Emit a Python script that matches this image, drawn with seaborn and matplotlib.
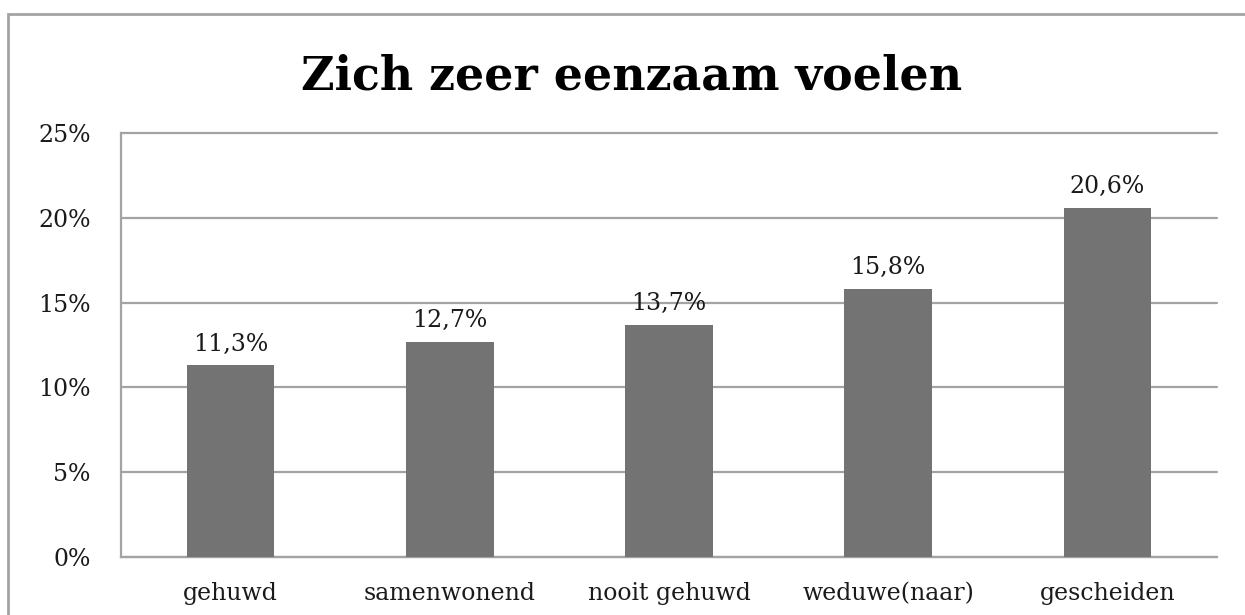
"""Bar chart: share of people who feel very lonely, by marital status."""

import matplotlib.pyplot as plt
import pandas as pd
import seaborn as sns
from matplotlib.patches import Rectangle
from matplotlib.ticker import FixedLocator, FuncFormatter

categories = ["gehuwd", "samenwonend", "nooit gehuwd", "weduwe(naar)", "gescheiden"]
values = [11.3, 12.7, 13.7, 15.8, 20.6]
y_ticks = [0, 5, 10, 15, 20, 25]
title = "Zich zeer eenzaam voelen"

BAR_COLOR = "#737373"
LINE_COLOR = "#a3a3a3"
TEXT_COLOR = "#1a1a1a"

sns.set_style("white")
plt.rcParams["font.family"] = ["DejaVu Serif"]

df = pd.DataFrame({"status": categories, "pct": values})

fig = plt.figure(figsize=(12.45, 6.15), dpi=100)
ax = fig.add_axes([121 / 1245, 58 / 615, (1217 - 121) / 1245, (557 - 133) / 615])

sns.barplot(data=df, x="status", y="pct", color=BAR_COLOR, width=0.4,
            saturation=1, linewidth=0, ax=ax, zorder=3)

ax.set_xlim(-0.5, len(categories) - 0.5)
ax.set_ylim(0, 25)
ax.set_yticks(y_ticks)
ax.yaxis.set_major_formatter(FuncFormatter(lambda v, _: f"{v:.0f}%"))
ax.grid(axis="y", color=LINE_COLOR, linewidth=1.6, zorder=0)
ax.set_axisbelow(True)
for line in ax.get_ygridlines():
    line.set_clip_on(False)

for side in ["top", "right"]:
    ax.spines[side].set_visible(False)
for side in ["left", "bottom"]:
    ax.spines[side].set_color(LINE_COLOR)
    ax.spines[side].set_linewidth(1.6)

# category ticks sit between the bars
ax.xaxis.set_minor_locator(FixedLocator([i - 0.5 for i in range(len(categories) + 1)]))
ax.tick_params(axis="x", which="major", length=0, pad=18, labelsize=17, labelcolor=TEXT_COLOR)
ax.tick_params(axis="x", which="minor", length=7, width=1.6, color=LINE_COLOR, direction="out")
ax.tick_params(axis="y", length=8, width=1.6, color=LINE_COLOR, direction="out",
               pad=14, labelsize=17, labelcolor=TEXT_COLOR)
ax.set_xlabel("")
ax.set_ylabel("")

labels = [f"{v:.1f}%".replace(".", ",") for v in values]
ax.bar_label(ax.containers[0], labels=labels, padding=7, fontsize=17, color=TEXT_COLOR)

fig.text(632 / 1245, 1 - 76 / 615, title, ha="center", va="center",
         fontsize=33, fontweight="bold", color="black")

# outer chart border (only top and left visible in the crop)
fig.patches.append(Rectangle((8 / 1245, -0.2), 1.2, 1.2 - 14 / 615,
                             transform=fig.transFigure, fill=False,
                             edgecolor=LINE_COLOR, linewidth=2, zorder=0))

fig.savefig("out.png", dpi=100)
